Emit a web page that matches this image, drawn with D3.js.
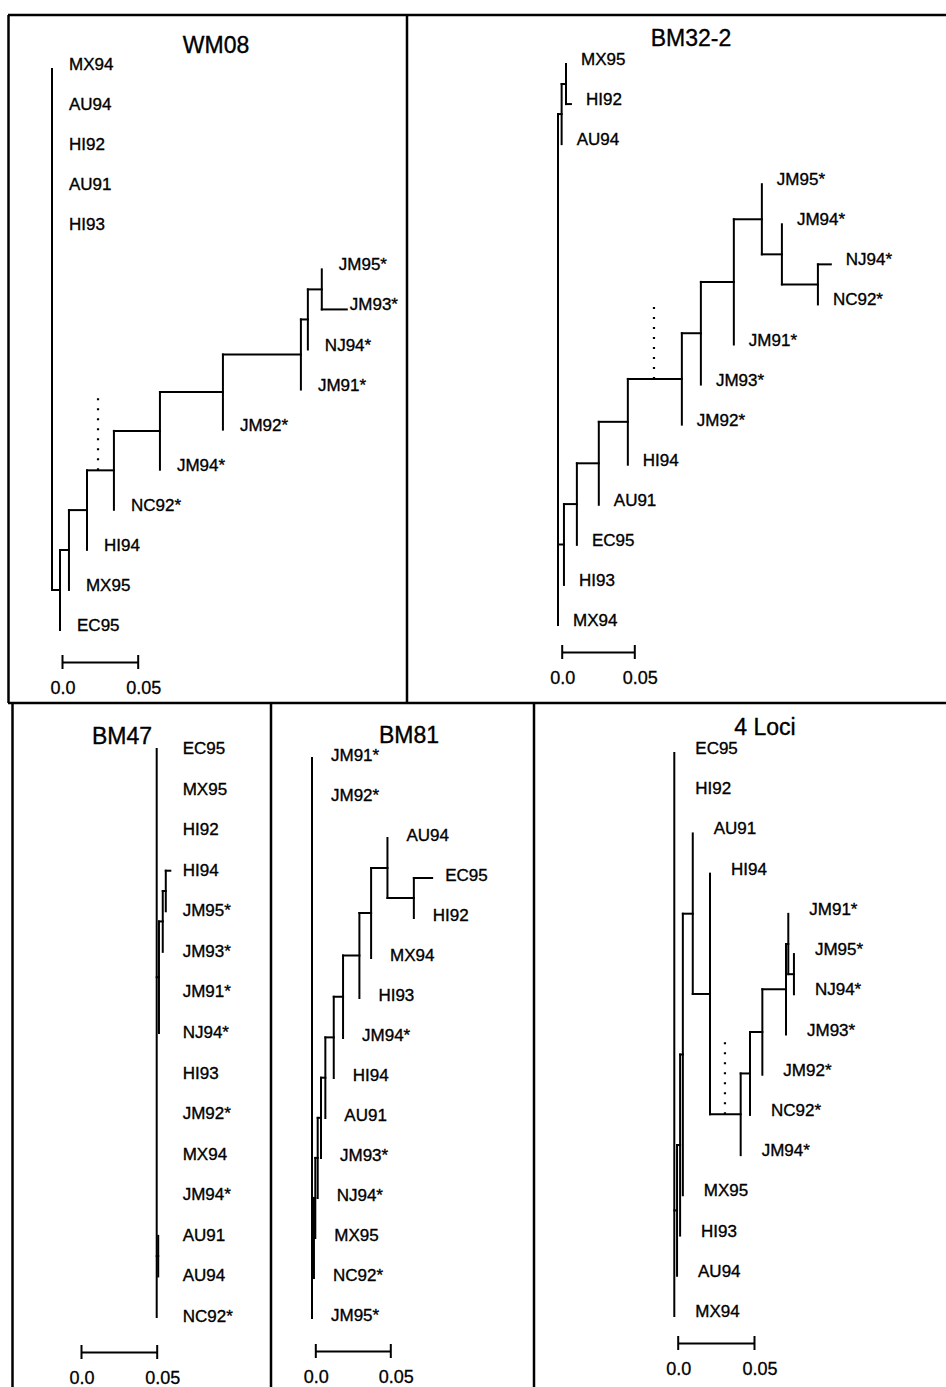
<!DOCTYPE html>
<html>
<head>
<meta charset="utf-8">
<script src="https://cdn.jsdelivr.net/npm/d3@7/dist/d3.min.js"></script>
<style>
  html, body { margin: 0; padding: 0; background: #fff; }
  svg { display: block; font-family: "Liberation Sans", Arial, Helvetica, sans-serif; }
</style>
</head>
<body>
<svg id="chart" width="946" height="1387"></svg>
<script>
// --- Data ---
const titles = ["WM08", "BM32-2", "BM47", "BM81", "4 Loci"];

// trees in Newick form, branch lengths in genetic distance
// internal node "s" carries the dotted marker
const wm08Tree = "(MX94:0,AU94:0,HI92:0,AU91:0,(HI93:0,((((((((((JM95*:0,JM93*:0.0165):0.0092,NJ94*:0):0.0046,JM91*:0):0.0515,JM92*:0):0.0416,JM94*:0):0.0304,NC92*:0)s:0.0178,HI94:0):0.0119,MX95:0):0.0059,EC95:0):0.003):0.0023)";
const bm322Tree = "(((MX95:0,HI92:0.0034):0.003,AU94:0):0.0025,(((((((((JM95*:0,(JM94*:0,(NJ94*:0.0089,NC92*:0):0.0248):0.0138):0.0193,JM91*:0):0.0227,JM93*:0):0.0131,JM92*:0)s:0.0372,HI94:0):0.02,AU91:0):0.0151,EC95:0):0.0089,HI93:0):0.0041,MX94:0)";
const bm47Tree = "(EC95:0,MX95:0,HI92:0,(((HI94:0.003,JM95*:0):0.002,JM93*:0):0.0025,JM91*:0,NJ94*:0):0.0015,HI93:0,JM92*:0,MX94:0,JM94*:0,(AU91:0,AU94:0):0.001,NC92*:0)";
const bm81Tree = "(JM91*:0,JM92*:0,((((((((((AU94:0,(EC95:0.0122,HI92:0):0.0176):0.0109,MX94:0):0.0078,HI93:0):0.0109,JM94*:0):0.0062,HI94:0):0.0056,AU91:0):0.0029,JM93*:0):0.0022,NJ94*:0):0.0016,MX95:0):0.0009,NC92*:0):0.0013,JM95*:0)";
const lociTree = "(EC95:0,HI92:0,((((AU91:0,(HI94:0,(((((JM91*:0,(JM95*:0,NJ94*:0):0.0037):0.0015,JM93*:0):0.0155,JM92*:0):0.0081,NC92*:0):0.0061,JM94*:0)s:0.0201):0.0113):0.0065,MX95:0):0.0018,HI93:0):0.002,AU94:0):0.0018,MX94:0)";
const trees = [wm08Tree, bm322Tree, bm47Tree, bm81Tree, lociTree];

// dotted marker: distance from root along the branch to node "s"
const markDist = [0.0304, 0.0661, null, null, 0.0332];

const scaleTicks = [0, 0.05];
const scaleLabels = ["0.0", "0.05"];

// --- Layout (pixels) ---
// dx: label gap after a leaf on its parent's line, dxTip: gap after a leaf with its own branch
const panels = [
  { rootX: 52,    top: 69,  bottom: 630,  unit: 75.7, barX: 62,    barY: 662,  tx: 216, ty: 53,  dx: 17, dxTip: 3,  dy: 1 },
  { rootX: 558,   top: 64,  bottom: 625,  unit: 72.6, barX: 561.7, barY: 652,  tx: 691, ty: 46,  dx: 15, dxTip: 15, dy: 1 },
  { rootX: 156.7, top: 749, bottom: 1317, unit: 75.7, barX: 81,    barY: 1352, tx: 122, ty: 744, dx: 26, dxTip: 26, dy: 5, align: true },
  { rootX: 312,   top: 758, bottom: 1318, unit: 75,   barX: 315.3, barY: 1351, tx: 409, ty: 743, dx: 19, dxTip: 13, dy: 3 },
  { rootX: 674.3, top: 753, bottom: 1316, unit: 76.3, barX: 677.7, barY: 1343, tx: 765, ty: 735, dx: 21, dxTip: 21, dy: 1 }
];

function parseNewick(s) {
  let i = 0;
  function node() {
    const n = { name: "", len: 0 };
    if (s[i] === "(") {
      i++;
      n.children = [node()];
      while (s[i] === ",") { i++; n.children.push(node()); }
      i++;
    }
    let name = "";
    while (i < s.length && !",):;".includes(s[i])) name += s[i++];
    n.name = name;
    if (s[i] === ":") {
      i++;
      let num = "";
      while (i < s.length && !",);".includes(s[i])) num += s[i++];
      n.len = +num;
    }
    return n;
  }
  return node();
}

const svg = d3.select("#chart");
svg.append("rect").attr("width", 946).attr("height", 1387).attr("fill", "#fff");

// --- Frame ---
const frame = svg.append("g").attr("stroke", "#000").attr("stroke-width", 2.5).attr("fill", "none");
[[8, 15, 946, 15], [8.5, 15, 8.5, 703], [407, 15, 407, 703], [8, 703, 946, 703],
 [12.5, 703, 12.5, 1387], [271, 703, 271, 1387], [534, 703, 534, 1387]]
  .forEach(l => frame.append("line").attr("x1", l[0]).attr("y1", l[1]).attr("x2", l[2]).attr("y2", l[3]));

panels.forEach((p, k) => {
  const g = svg.append("g");
  const root = d3.hierarchy(parseNewick(trees[k]));
  const leaves = root.leaves();

  const x = d3.scaleLinear().domain([0, 0.05]).range([p.rootX, p.rootX + p.unit]);
  const y = d3.scalePoint().domain(leaves.map(d => d.data.name)).range([p.top, p.bottom]);

  root.eachBefore(d => { d.dist = d.parent ? d.parent.dist + d.data.len : 0; });
  root.eachAfter(d => {
    d.yy = d.children ? (d.children[0].yy + d.children[d.children.length - 1].yy) / 2 : y(d.data.name);
  });

  const lines = g.append("g").attr("stroke", "#000").attr("stroke-width", 2).attr("stroke-linecap", "square");

  // vertical connectors
  lines.selectAll(".v").data(root.descendants().filter(d => d.children)).join("line")
    .attr("x1", d => x(d.dist)).attr("x2", d => x(d.dist))
    .attr("y1", d => d.children[0].yy)
    .attr("y2", d => d.children[d.children.length - 1].yy);

  // horizontal branches
  lines.selectAll(".h").data(root.descendants().filter(d => d.parent && d.data.len > 0)).join("line")
    .attr("x1", d => x(d.parent.dist)).attr("x2", d => x(d.dist))
    .attr("y1", d => d.yy).attr("y2", d => d.yy);

  // dotted marker
  if (markDist[k] != null) {
    const s = root.descendants().find(d => d.data.name === "s");
    g.append("line")
      .attr("x1", x(markDist[k])).attr("x2", x(markDist[k]))
      .attr("y1", s.yy).attr("y2", s.yy - 1.9 * y.step())
      .attr("stroke", "#000").attr("stroke-width", 2.2).attr("stroke-dasharray", "2,8");
  }

  // leaf labels
  g.selectAll(".lab").data(leaves).join("text")
    .attr("x", d => p.align ? p.rootX + p.dx : x(d.dist) + (d.data.len > 0 ? p.dxTip : p.dx))
    .attr("y", d => d.yy + p.dy)
    .attr("font-size", 17).attr("fill", "#000")
    .attr("stroke", "#000").attr("stroke-width", 0.35)
    .text(d => d.data.name);

  // title
  g.append("text").attr("x", p.tx).attr("y", p.ty).attr("text-anchor", "middle")
    .attr("font-size", 23).attr("fill", "#000")
    .attr("stroke", "#000").attr("stroke-width", 0.35).text(titles[k]);

  // scale bar
  const bar = d3.scaleLinear().domain([0, 0.05]).range([p.barX, p.barX + p.unit]);
  const ax = g.append("g").attr("transform", `translate(0,${p.barY})`)
    .call(d3.axisBottom(bar).tickValues(scaleTicks).tickFormat((d, i) => scaleLabels[i]).tickSizeOuter(0));
  ax.attr("font-size", null).attr("font-family", null);
  ax.select(".domain").attr("stroke", "#000").attr("stroke-width", 2);
  ax.selectAll(".tick line").attr("y1", -7).attr("y2", 7).attr("stroke", "#000").attr("stroke-width", 2);
  ax.selectAll(".tick text").attr("y", 32).attr("dy", null).attr("dx", -12)
    .attr("text-anchor", "start").attr("font-size", 18).attr("fill", "#000")
    .attr("stroke", "#000").attr("stroke-width", 0.3);
});
</script>
</body>
</html>
